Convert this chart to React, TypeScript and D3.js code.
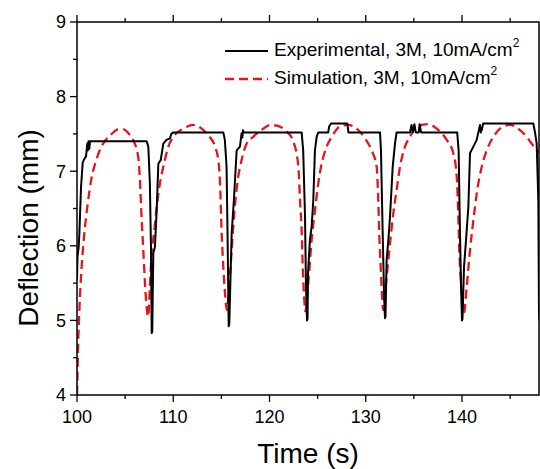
import React from "react";
import * as d3 from "d3";

const expTime = [100.0,100.05,100.17,100.24,100.42,100.59,100.7,100.94,101.07,101.12,101.2,101.28,101.35,107.24,107.41,107.57,107.69,107.76,107.82,107.86,107.93,108.1,108.28,108.45,108.7,108.97,109.3,109.66,109.8,110.0,115.2,115.36,115.54,115.64,115.76,115.82,116.07,116.3,116.59,116.93,117.1,117.18,117.25,117.32,123.34,123.5,123.69,123.79,123.9,123.95,124.0,124.2,124.38,124.55,124.72,124.9,125.07,126.1,126.2,126.35,126.4,128.08,128.2,131.48,131.58,131.76,131.9,132.0,132.05,132.17,132.35,132.52,132.8,133.04,133.2,134.6,134.75,134.9,135.05,135.2,135.5,135.6,135.75,136.0,139.5,139.65,139.79,139.9,140.0,140.05,140.21,140.42,140.66,140.83,141.18,141.53,141.7,141.87,141.95,142.05,142.2,147.41,147.6,147.76,147.93,148.0,148.05];
const expDefl = [5.55,5.85,5.98,6.15,6.79,7.11,7.15,7.2,7.37,7.28,7.4,7.3,7.4,7.4,7.33,6.84,5.94,4.83,4.85,5.27,5.9,5.99,6.48,7.1,7.15,7.37,7.42,7.44,7.5,7.52,7.52,7.42,7.06,6.17,4.92,4.95,6.17,6.61,7.28,7.33,7.51,7.45,7.55,7.52,7.52,7.28,6.39,5.45,5.0,5.02,5.63,6.08,6.26,6.61,7.28,7.46,7.52,7.52,7.6,7.63,7.64,7.64,7.52,7.52,7.28,6.17,5.36,5.03,5.05,5.81,6.08,6.39,7.06,7.37,7.52,7.52,7.62,7.52,7.63,7.52,7.52,7.63,7.52,7.52,7.52,7.28,6.17,5.45,5.0,5.02,5.72,6.08,6.52,7.24,7.33,7.42,7.52,7.62,7.52,7.55,7.64,7.64,7.51,7.37,6.61,5.1,5.0];

const simTime = [100.0,100.15,100.3,100.5,100.75,101.1,101.5,102.0,102.5,103.0,103.6,104.3,104.8,105.4,105.9,106.35,106.55,106.7,106.89,107.06,107.3,107.4,107.57,107.76,108.0,108.28,108.62,109.04,109.49,110.0,111.04,112.08,112.95,113.64,114.34,114.68,114.86,115.03,115.2,115.38,115.55,115.9,116.07,116.31,116.66,117.1,117.63,118.3,119.36,120.05,120.75,121.8,122.47,123.0,123.17,123.35,123.45,123.58,123.72,124.03,124.38,124.73,125.07,125.42,125.94,126.46,127.32,128.19,129.06,129.92,130.61,131.13,131.3,131.4,131.55,131.72,131.8,132.17,132.52,132.86,133.21,133.56,134.08,134.6,135.29,136.5,137.37,138.41,139.1,139.45,139.62,139.72,139.9,140.07,140.2,140.49,140.83,141.18,141.53,142.05,142.57,143.26,143.95,144.99,146.03,146.72,147.24,148.0];
const simDefl = [4.0,4.8,5.3,5.75,6.15,6.55,6.9,7.15,7.32,7.42,7.5,7.56,7.56,7.5,7.4,7.2,6.85,6.4,5.94,5.5,5.1,5.05,5.45,5.9,6.17,6.52,6.84,7.1,7.33,7.46,7.57,7.62,7.57,7.48,7.33,7.15,6.84,6.17,5.72,5.36,5.14,5.63,5.94,6.39,6.84,7.15,7.37,7.46,7.57,7.62,7.61,7.53,7.4,7.06,6.61,6.17,5.72,5.36,5.12,5.5,6.08,6.48,6.84,7.1,7.33,7.46,7.6,7.62,7.57,7.44,7.28,7.06,6.61,6.17,5.72,5.27,5.14,5.59,6.03,6.43,6.75,7.06,7.33,7.46,7.6,7.63,7.57,7.42,7.24,6.93,6.39,5.94,5.5,5.18,5.1,5.45,5.94,6.34,6.7,7.06,7.28,7.46,7.57,7.62,7.55,7.46,7.37,7.25];

const xMajor = [100, 110, 120, 130, 140];
const xMinor = [105, 115, 125, 135, 145];
const yMajor = [4, 5, 6, 7, 8, 9];
const yMinor = [4.5, 5.5, 6.5, 7.5, 8.5];
const legendLabels = ["Experimental, 3M, 10mA/cm", "Simulation, 3M, 10mA/cm"];

export default function App() {
  const L = 77, R = 539, T = 22, B = 395;
  const x = d3.scaleLinear().domain([100, 148]).range([L, R]);
  const y = d3.scaleLinear().domain([4, 9]).range([B, T]);
  const font = "'Liberation Sans', Arial, sans-serif";

  const expLine = d3.line<number>().x((_, i) => x(expTime[i])).y((d) => y(d));
  const simLine = d3
    .line<number>()
    .x((_, i) => x(simTime[i]))
    .y((d) => y(d))
    .curve(d3.curveMonotoneX);

  return (
    <svg
      width={540}
      height={469}
      style={{ position: "absolute", left: 0, top: 0, background: "#fff" }}
      fontFamily={font}
    >
      <defs>
        <clipPath id="plotclip">
          <rect x={L} y={T} width={R - L} height={B - T} />
        </clipPath>
      </defs>
      <g clipPath="url(#plotclip)">
        <path d={simLine(simDefl) || ""} fill="none" stroke="#e8141c" strokeWidth={2.3} strokeDasharray="9,5" />
        <path d={expLine(expDefl) || ""} fill="none" stroke="#000" strokeWidth={2} strokeLinejoin="round" />
      </g>
      {/* frame */}
      <rect x={L} y={T} width={R - L} height={B - T} fill="none" stroke="#000" strokeWidth={1.5} />
      {/* x ticks */}
      {xMajor.map((t) => (
        <g key={"xm" + t}>
          <line x1={x(t)} x2={x(t)} y1={B} y2={B + 7} stroke="#000" strokeWidth={1.3} />
          <line x1={x(t)} x2={x(t)} y1={T} y2={T - 7} stroke="#000" strokeWidth={1.3} />
          <text x={x(t)} y={423} fontSize={18} textAnchor="middle" fill="#000">
            {t}
          </text>
        </g>
      ))}
      {xMinor.map((t) => (
        <g key={"xn" + t}>
          <line x1={x(t)} x2={x(t)} y1={B} y2={B + 4} stroke="#000" strokeWidth={1.3} />
          <line x1={x(t)} x2={x(t)} y1={T} y2={T - 4} stroke="#000" strokeWidth={1.3} />
        </g>
      ))}
      {/* y ticks */}
      {yMajor.map((v) => (
        <g key={"ym" + v}>
          <line x1={L} x2={L - 7} y1={y(v)} y2={y(v)} stroke="#000" strokeWidth={1.3} />
          <text x={66} y={y(v)} dy="0.35em" fontSize={18} textAnchor="end" fill="#000">
            {v}
          </text>
        </g>
      ))}
      {yMinor.map((v) => (
        <line key={"yn" + v} x1={L} x2={L - 4} y1={y(v)} y2={y(v)} stroke="#000" strokeWidth={1.3} />
      ))}
      {/* axis titles */}
      <text x={(L + R) / 2} y={463} fontSize={28} textAnchor="middle" fill="#000">
        Time (s)
      </text>
      <text
        transform={`translate(38,228) rotate(-90)`}
        fontSize={28}
        textAnchor="middle"
        fill="#000"
      >
        Deflection (mm)
      </text>
      {/* legend */}
      <line x1={225} x2={268} y1={51} y2={51} stroke="#000" strokeWidth={2} />
      <text x={274} y={56} fontSize={19} fill="#000">
        {legendLabels[0]}
        <tspan fontSize={12} dy={-9}>2</tspan>
      </text>
      <line x1={225} x2={268} y1={79} y2={79} stroke="#e8141c" strokeWidth={2.3} strokeDasharray="9,5" />
      <text x={274} y={84} fontSize={19} fill="#000">
        {legendLabels[1]}
        <tspan fontSize={12} dy={-9}>2</tspan>
      </text>
    </svg>
  );
}
